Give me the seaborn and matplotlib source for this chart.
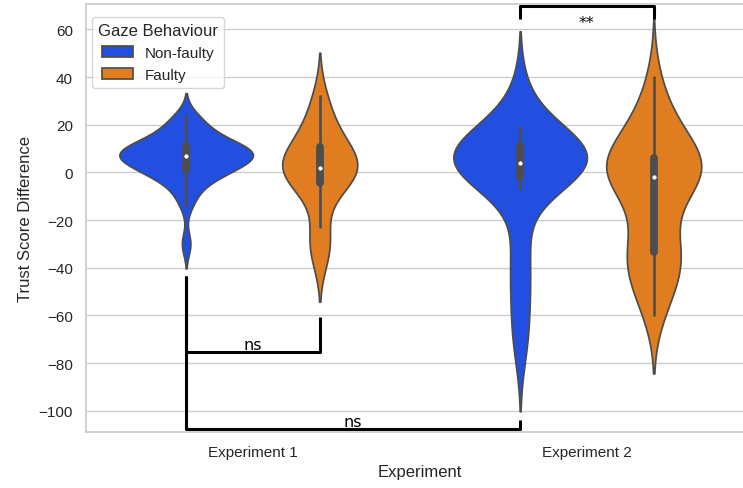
import numpy as np
import pandas as pd
import matplotlib
matplotlib.use("Agg")
import matplotlib.pyplot as plt
import seaborn as sns

# trust score differences (estimated samples)
exp1_nonfaulty = [-31, -29, -14, -12, -9, -7, -5, -4, -3, -2, -1, 0, 0, 0, 1, 1, 2, 2,
                  3, 3, 4, 4, 5, 5, 5, 6, 6, 6, 7, 7, 7, 7, 8, 8, 8, 8, 9, 9, 9,
                  10, 10, 10, 10, 11, 11, 11, 12, 12, 13, 14, 15, 15, 16, 18, 18, 19,
                  21, 22, 23, 24]
exp1_faulty = [-36, -32, -28, -23, -10, -5, -4, -2, -1, 0, 1, 2, 2, 3, 4, 6, 8, 10, 12,
               14, 17, 21, 27, 32]
exp2_nonfaulty = [-76, -68, -60, -52, -45, -38, -31, -24, -7, -4, -2, -2, -1, 0, 1, 1,
                  2, 2, 3, 3, 4, 4, 5, 6, 6, 7, 8, 9, 10, 10, 11, 11, 12, 13,
                  14, 15, 16, 17, 19, 31, 35]
exp2_faulty = [-60, -56, -51, -47, -44, -41, -39, -37, -35, -34, -33, -30, -26, -21,
               -16, -10, -6, -4, -3, -2, -2, -1, 0, 1, 2, 3, 3, 4, 5, 6, 6, 7, 13,
               15, 17, 19, 21, 25, 32, 40]

experiments = ["Experiment 1", "Experiment 2"]
behaviours = ["Non-faulty", "Faulty"]

def build_frame():
    rows = []
    groups = {("Experiment 1", "Non-faulty"): exp1_nonfaulty,
              ("Experiment 1", "Faulty"): exp1_faulty,
              ("Experiment 2", "Non-faulty"): exp2_nonfaulty,
              ("Experiment 2", "Faulty"): exp2_faulty}
    for (exp, beh), vals in groups.items():
        for v in vals:
            rows.append({"Experiment": exp, "Gaze Behaviour": beh,
                         "Trust Score Difference": v})
    return pd.DataFrame(rows)

def bracket(ax, x1, x2, y, y1, y2, label, ty, va="bottom"):
    ax.plot([x1, x1, x2, x2], [y1, y, y, y2], color="black", lw=2.2,
            clip_on=False, solid_capstyle="butt")
    ax.text((x1 + x2) / 2, ty, label, ha="center", va=va, fontsize=11.5,
            family="DejaVu Sans", color="black")

def main():
    df = build_frame()
    sns.set_theme(style="whitegrid")
    plt.rcParams["font.family"] = ["Liberation Sans", "DejaVu Sans"]
    fig = plt.figure(figsize=(7.43, 4.89), dpi=100)
    ax = fig.add_axes([0.1157, 0.1151, 0.899, 0.8737])
    # one call per experiment, so the violin widths are scaled within each experiment
    for i, exp in enumerate(experiments):
        sub = df[df["Experiment"] == exp]
        sns.violinplot(data=sub, x="Experiment", y="Trust Score Difference",
                       hue="Gaze Behaviour", order=experiments, hue_order=behaviours,
                       palette="bright", common_norm=True, legend=(i == 0),
                       inner_kws={"marker": "o", "markersize": 2.5,
                                  "markeredgewidth": 0.5}, ax=ax)
    ax.set_xlim(-0.5, 1.5)
    ax.set_ylim(-108.8, 70.5)
    sns.move_legend(ax, "upper left", bbox_to_anchor=(-0.002, 0.988),
                    title="Gaze Behaviour")

    bracket(ax, -0.2, 0.2, -75.5, -43.5, -60.5, "ns", -75.5)
    bracket(ax, -0.2, 0.8, -107.8, -43.5, -104, "ns", -107.8)
    bracket(ax, 0.8, 1.2, 70, 64.2, 64.2, "**", 63, va="center")

    fig.savefig("out.png", dpi=100)

if __name__ == "__main__":
    main()
